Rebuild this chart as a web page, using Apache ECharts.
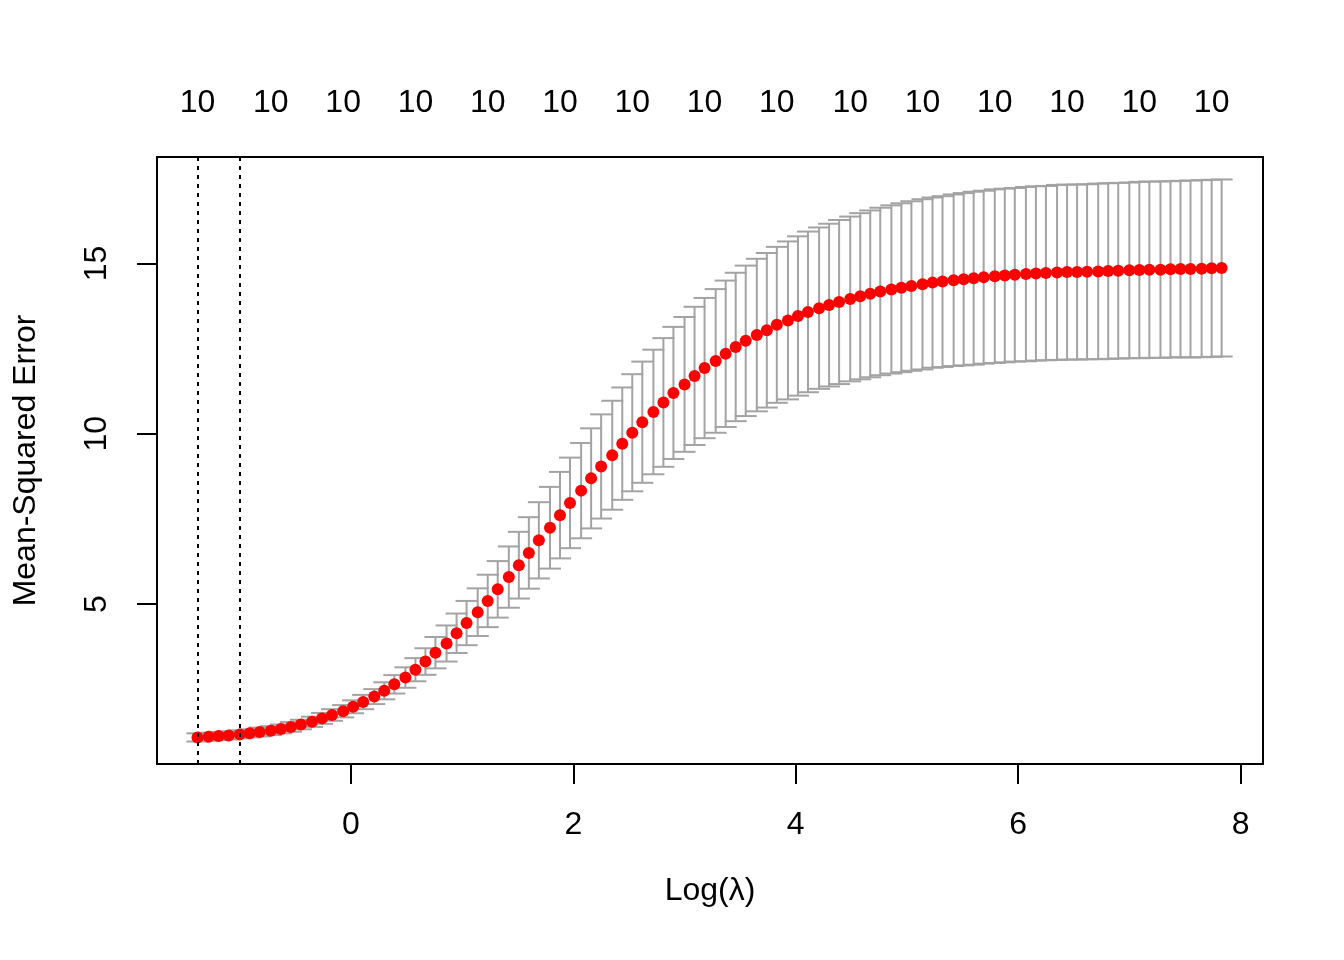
<!DOCTYPE html>
<html>
<head>
<meta charset="utf-8">
<title>cv.glmnet</title>
<script src="https://cdn.jsdelivr.net/npm/echarts@6/dist/echarts.min.js"></script>
<style>
  html, body { margin: 0; padding: 0; background: #fff; }
  #chart { width: 1344px; height: 960px; }
</style>
</head>
<body>
<div id="chart"></div>
<script>
// ── data ──
const logLambda = [
  -1.38, -1.28, -1.19, -1.10, -1.00, -0.91, -0.82, -0.72, -0.63, -0.54,
  -0.45, -0.35, -0.26, -0.17, -0.07,  0.02,  0.11,  0.21,  0.30,  0.39,
   0.49,  0.58,  0.67,  0.76,  0.86,  0.95,  1.04,  1.14,  1.23,  1.32,
   1.42,  1.51,  1.60,  1.69,  1.79,  1.88,  1.97,  2.07,  2.16,  2.25,
   2.35,  2.44,  2.53,  2.62,  2.72,  2.81,  2.90,  3.00,  3.09,  3.18,
   3.28,  3.37,  3.46,  3.55,  3.65,  3.74,  3.83,  3.93,  4.02,  4.11,
   4.21,  4.30,  4.39,  4.49,  4.58,  4.67,  4.76,  4.86,  4.95,  5.04,
   5.14,  5.23,  5.32,  5.42,  5.51,  5.60,  5.69,  5.79,  5.88,  5.97,
   6.07,  6.16,  6.25,  6.35,  6.44,  6.53,  6.62,  6.72,  6.81,  6.90,
   7.00,  7.09,  7.18,  7.28,  7.37,  7.46,  7.55,  7.65,  7.74,  7.83
];

// mean cross-validated error
const cvm = [
   1.08,  1.10,  1.12,  1.14,  1.17,  1.20,  1.24,  1.28,  1.33,  1.39,
   1.46,  1.54,  1.64,  1.74,  1.85,  1.98,  2.12,  2.28,  2.45,  2.64,
   2.84,  3.07,  3.31,  3.57,  3.84,  4.14,  4.44,  4.76,  5.09,  5.43,
   5.79,  6.14,  6.50,  6.87,  7.24,  7.61,  7.97,  8.33,  8.69,  9.04,
   9.37,  9.71, 10.03, 10.34, 10.64, 10.92, 11.20, 11.45, 11.70, 11.93,
  12.14, 12.35, 12.55, 12.73, 12.90, 13.04, 13.20, 13.33, 13.46, 13.58,
  13.69, 13.78, 13.87, 13.96, 14.04, 14.11, 14.18, 14.24, 14.29, 14.34,
  14.39, 14.44, 14.47, 14.51, 14.54, 14.57, 14.60, 14.63, 14.65, 14.67,
  14.69, 14.71, 14.72, 14.74, 14.75, 14.75, 14.76, 14.77, 14.78, 14.79,
  14.80, 14.81, 14.82, 14.82, 14.83, 14.84, 14.84, 14.85, 14.86, 14.87
];

// standard error (half length of each bar)
const cvsd = [
  0.12, 0.12, 0.12, 0.12, 0.12, 0.12, 0.13, 0.13, 0.13, 0.14,
  0.14, 0.15, 0.16, 0.17, 0.18, 0.19, 0.21, 0.22, 0.25, 0.27,
  0.30, 0.34, 0.39, 0.46, 0.53, 0.58, 0.65, 0.70, 0.77, 0.83,
  0.90, 0.98, 1.05, 1.12, 1.20, 1.27, 1.33, 1.40, 1.47, 1.53,
  1.60, 1.65, 1.72, 1.78, 1.83, 1.89, 1.94, 1.98, 2.03, 2.06,
  2.11, 2.15, 2.18, 2.21, 2.24, 2.27, 2.29, 2.32, 2.34, 2.36,
  2.37, 2.39, 2.41, 2.42, 2.44, 2.45, 2.46, 2.47, 2.48, 2.49,
  2.50, 2.50, 2.51, 2.52, 2.53, 2.54, 2.54, 2.55, 2.55, 2.55,
  2.56, 2.56, 2.56, 2.57, 2.57, 2.57, 2.57, 2.58, 2.58, 2.58,
  2.58, 2.59, 2.59, 2.59, 2.59, 2.59, 2.60, 2.60, 2.60, 2.60
];

const lambdaMin = -1.38;
const lambda1se = -1.00;

// number of nonzero coefficients shown along the top
const topTickAt = [-1.38, -0.72, -0.07, 0.58, 1.23, 1.88, 2.53, 3.18, 3.83, 4.49, 5.14, 5.79, 6.44, 7.09, 7.74];
const topTickLabels = ['10', '10', '10', '10', '10', '10', '10', '10', '10', '10', '10', '10', '10', '10', '10'];

const xTicks = [0, 2, 4, 6, 8];
const yTicks = [5, 10, 15];
const xRange = [-1.744, 8.202];
const yRange = [0.30, 18.13];

// ── chart ──
const FONT = '"Liberation Sans", Arial, Helvetica, sans-serif';
const chart = echarts.init(document.getElementById('chart'));

const barData = logLambda.map((x, i) => [x, cvm[i] - cvsd[i], cvm[i] + cvsd[i]]);
const pointData = logLambda.map((x, i) => [x, cvm[i]]);

function renderErrorBar(params, api) {
  const x = api.value(0);
  const lo = api.coord([x, api.value(1)]);
  const hi = api.coord([x, api.value(2)]);
  const w = 11;
  const style = { stroke: '#a3a3a3', lineWidth: 2, fill: null };
  return {
    type: 'group',
    children: [
      { type: 'line', shape: { x1: hi[0], y1: hi[1], x2: lo[0], y2: lo[1] }, style },
      { type: 'line', shape: { x1: hi[0] - w, y1: hi[1], x2: hi[0] + w, y2: hi[1] }, style },
      { type: 'line', shape: { x1: lo[0] - w, y1: lo[1], x2: lo[0] + w, y2: lo[1] }, style },
    ],
  };
}

chart.setOption({
  animation: false,
  backgroundColor: '#fff',
  textStyle: { fontFamily: FONT, color: '#000' },
  grid: {
    left: 157, right: 81, top: 157, bottom: 196,
    show: true, borderColor: '#000', borderWidth: 2, backgroundColor: 'transparent',
  },
  xAxis: [
    {
      type: 'value', position: 'bottom', min: xRange[0], max: xRange[1],
      name: 'Log(λ)', nameLocation: 'middle', nameGap: 111,
      nameTextStyle: { fontFamily: FONT, fontSize: 32, color: '#000' },
      axisLine: { show: false, onZero: false },
      axisTick: { show: true, customValues: xTicks, length: 20, lineStyle: { color: '#000', width: 2 } },
      axisLabel: { customValues: xTicks, margin: 45, fontFamily: FONT, fontSize: 32, color: '#000' },
      splitLine: { show: false },
    },
    {
      type: 'value', position: 'top', min: xRange[0], max: xRange[1],
      axisLine: { show: false, onZero: false },
      axisTick: { show: false },
      axisLabel: {
        customValues: topTickAt, margin: 38, fontFamily: FONT, fontSize: 32, color: '#000',
        formatter: v => {
          let k = 0;
          topTickAt.forEach((t, i) => { if (Math.abs(t - v) < Math.abs(topTickAt[k] - v)) k = i; });
          return topTickLabels[k];
        },
      },
      splitLine: { show: false },
    },
  ],
  yAxis: {
    type: 'value', position: 'left', min: yRange[0], max: yRange[1],
    name: 'Mean-Squared Error', nameLocation: 'middle', nameGap: 115, nameRotate: 90,
    nameTextStyle: { fontFamily: FONT, fontSize: 32, color: '#000' },
    axisLine: { show: false, onZero: false },
    axisTick: { show: true, customValues: yTicks, length: 20, lineStyle: { color: '#000', width: 2 } },
    axisLabel: { customValues: yTicks, rotate: 90, margin: 44, fontFamily: FONT, fontSize: 32, color: '#000' },
    splitLine: { show: false },
  },
  series: [
    {
      type: 'custom', name: 'bars', xAxisIndex: 0,
      renderItem: renderErrorBar,
      encode: { x: 0, y: [1, 2] },
      data: barData, z: 1, silent: true,
    },
    {
      type: 'scatter', name: 'cvm', xAxisIndex: 0,
      symbol: 'circle', symbolSize: 12,
      itemStyle: { color: '#ff0000', opacity: 1 },
      data: pointData, z: 2, silent: true,
    },
    {
      type: 'line', name: 'lambda', xAxisIndex: 0, data: [], z: 3, silent: true,
      markLine: {
        silent: true, symbol: 'none', animation: false,
        label: { show: false },
        lineStyle: { color: '#000', width: 2, type: [4, 5] },
        data: [{ xAxis: lambdaMin }, { xAxis: lambda1se }],
      },
    },
  ],
});
</script>
</body>
</html>
